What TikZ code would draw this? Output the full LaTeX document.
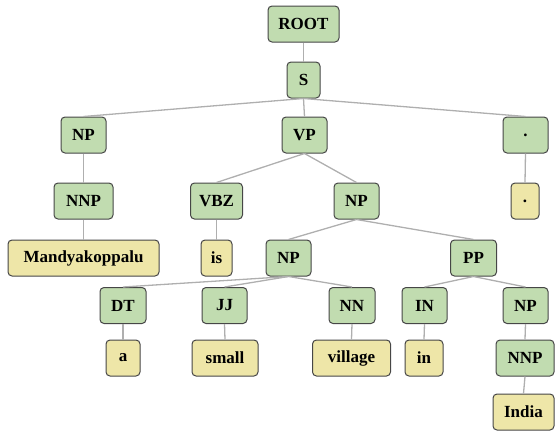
\documentclass[tikz,border=0pt]{standalone}
\usepackage{fontspec}
\setmainfont{Liberation Serif}
\definecolor{tagfill}{RGB}{193,220,176}
\definecolor{wordfill}{RGB}{238,230,168}
\definecolor{boxline}{RGB}{70,70,70}
\definecolor{edgeline}{RGB}{175,175,175}
\begin{document}
\begin{tikzpicture}[x=1pt,y=-1pt,
  box/.style={draw=boxline, line width=1pt, rounded corners=4pt, minimum height=36pt, inner xsep=0pt, inner ysep=0pt, font=\fontsize{17}{17}\selectfont\bfseries},
  tag/.style={box, fill=tagfill},
  word/.style={box, fill=wordfill},
  edge/.style={draw=edgeline, line width=1.3pt}]
\useasboundingbox (0,0) rectangle (555,432);
\node[tag, minimum width=71pt] (root) at (303.5,24) {ROOT};
\node[tag, minimum width=33pt] (s) at (303.5,80) {S};
\node[tag, minimum width=45pt] (np1) at (83.5,135) {NP};
\node[tag, minimum width=45pt] (vp) at (304.5,135) {VP};
\node[tag, minimum width=45pt] (dot1) at (525.5,135) {.};
\node[tag, minimum width=59pt] (nnp1) at (83.5,201) {NNP};
\node[tag, minimum width=52pt] (vbz) at (216.5,201) {VBZ};
\node[tag, minimum width=45pt] (np2) at (356.5,201) {NP};
\node[word, minimum width=28pt] (dot2) at (525,201) {.};
\node[word, minimum width=151pt] (mandy) at (83.5,258) {Mandyakoppalu};
\node[word, minimum width=31pt] (is) at (216.5,258) {is};
\node[tag, minimum width=45pt] (np3) at (288.5,258) {NP};
\node[tag, minimum width=46pt] (pp) at (473.5,258) {PP};
\node[tag, minimum width=46pt] (dt) at (123,305.5) {DT};
\node[tag, minimum width=45pt] (jj) at (224.5,305.5) {JJ};
\node[tag, minimum width=46pt] (nn) at (352,305.5) {NN};
\node[tag, minimum width=45pt] (in) at (424.5,305.5) {IN};
\node[tag, minimum width=45pt] (np4) at (525.5,305.5) {NP};
\node[word, minimum width=34pt] (a) at (123,358) {a};
\node[word, minimum width=66pt] (small) at (225,358) {small};
\node[word, minimum width=78pt] (village) at (351.5,358) {village};
\node[word, minimum width=38pt] (inw) at (424,358) {in};
\node[tag, minimum width=58pt] (nnp2) at (525,358) {NNP};
\node[word, minimum width=61pt] (india) at (523.5,412) {India};
\foreach \p/\c in {root/s, s/np1, s/vp, s/dot1, np1/nnp1, nnp1/mandy, vp/vbz, vp/np2, dot1/dot2, vbz/is, np2/np3, np2/pp, np3/dt, np3/jj, np3/nn, pp/in, pp/np4, dt/a, jj/small, nn/village, in/inw, np4/nnp2, nnp2/india}
  \draw[edge] (\p.south) -- (\c.north);
\end{tikzpicture}
\end{document}
